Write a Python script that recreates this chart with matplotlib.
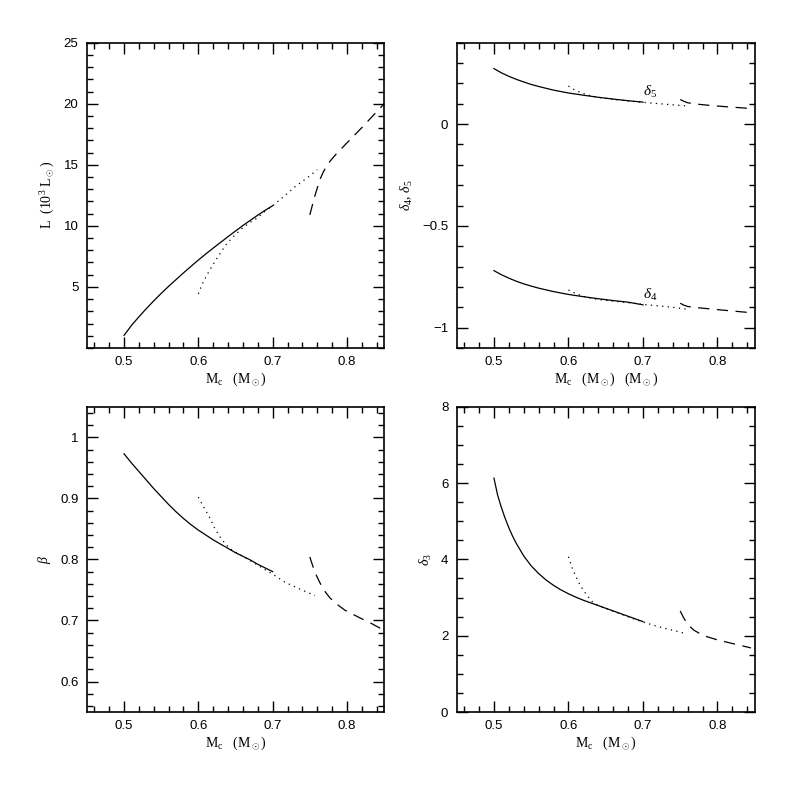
import numpy as np
import matplotlib.pyplot as plt
from matplotlib.ticker import MultipleLocator, FixedLocator

plt.rcParams['font.family'] = ['Liberation Sans', 'DejaVu Sans']
plt.rcParams['mathtext.fontset'] = 'custom'
plt.rcParams['mathtext.rm'] = 'Liberation Serif'
plt.rcParams['mathtext.it'] = 'Liberation Serif:italic'

# --- L (10^3 Lsun) vs Mc
L_solid_m = [0.50, 0.51, 0.52, 0.53, 0.54, 0.55, 0.56, 0.57, 0.58, 0.59, 0.60,
             0.61, 0.62, 0.63, 0.64, 0.65, 0.66, 0.67, 0.68, 0.69, 0.70]
L_solid = [1.03, 1.85, 2.55, 3.22, 3.86, 4.47, 5.05, 5.60, 6.15, 6.68, 7.20,
           7.70, 8.18, 8.65, 9.12, 9.58, 10.03, 10.46, 10.88, 11.28, 11.65]
L_dot_m = [0.600, 0.605, 0.611, 0.617, 0.623, 0.630, 0.636, 0.643, 0.650, 0.660,
           0.670, 0.678, 0.690, 0.700, 0.710, 0.721, 0.730, 0.740, 0.750, 0.760]
L_dot = [4.43, 5.20, 5.92, 6.55, 7.15, 7.80, 8.37, 8.85, 9.30, 9.85,
         10.30, 10.60, 11.20, 11.65, 12.15, 12.72, 13.20, 13.65, 14.10, 14.60]
L_dash_m = [0.750, 0.753, 0.756, 0.760, 0.764, 0.768, 0.772, 0.776, 0.780, 0.785,
            0.790, 0.800, 0.810, 0.820, 0.830, 0.840, 0.850]
L_dash = [10.9, 11.6, 12.3, 13.1, 13.85, 14.4, 14.85, 15.2, 15.5, 15.85,
          16.17, 16.8, 17.42, 18.05, 18.7, 19.35, 20.0]

# --- delta5 and delta4 vs Mc
d5_solid_m = [0.50, 0.51, 0.52, 0.53, 0.54, 0.55, 0.56, 0.58, 0.60, 0.62, 0.64, 0.66, 0.68, 0.70]
d5_solid = [0.273, 0.252, 0.235, 0.220, 0.207, 0.195, 0.185, 0.167, 0.153, 0.142, 0.132, 0.123, 0.115, 0.108]
d5_dot_m = [0.60, 0.61, 0.62, 0.63, 0.64, 0.66, 0.68, 0.70, 0.72, 0.74, 0.76]
d5_dot = [0.187, 0.165, 0.150, 0.139, 0.131, 0.122, 0.114, 0.107, 0.101, 0.095, 0.089]
d5_dash_m = [0.750, 0.755, 0.760, 0.770, 0.790, 0.810, 0.840]
d5_dash = [0.121, 0.112, 0.105, 0.099, 0.092, 0.086, 0.078]

d4_solid_m = [0.50, 0.51, 0.52, 0.53, 0.54, 0.55, 0.56, 0.58, 0.60, 0.62, 0.64, 0.66, 0.68, 0.70]
d4_solid = [-0.720, -0.740, -0.757, -0.772, -0.785, -0.796, -0.806, -0.823, -0.837, -0.848,
            -0.858, -0.867, -0.875, -0.888]
d4_dot_m = [0.60, 0.61, 0.62, 0.63, 0.64, 0.66, 0.68, 0.70, 0.72, 0.74, 0.76]
d4_dot = [-0.815, -0.833, -0.846, -0.855, -0.862, -0.870, -0.877, -0.886, -0.893, -0.900, -0.910]
d4_dash_m = [0.750, 0.755, 0.760, 0.770, 0.790, 0.810, 0.840]
d4_dash = [-0.880, -0.890, -0.896, -0.901, -0.908, -0.915, -0.925]

# --- beta vs Mc
b_solid_m = [0.50, 0.51, 0.52, 0.53, 0.54, 0.55, 0.56, 0.57, 0.58, 0.59, 0.60,
             0.61, 0.62, 0.63, 0.64, 0.65, 0.66, 0.67, 0.68, 0.69, 0.70]
b_solid = [0.973, 0.958, 0.944, 0.930, 0.916, 0.903, 0.890, 0.878, 0.867, 0.857, 0.848,
           0.840, 0.832, 0.825, 0.818, 0.811, 0.805, 0.799, 0.792, 0.786, 0.780]
b_dot_m = [0.600, 0.608, 0.616, 0.622, 0.629, 0.636, 0.642, 0.650, 0.660, 0.674,
           0.690, 0.700, 0.716, 0.730, 0.745, 0.757]
b_dot = [0.902, 0.884, 0.867, 0.851, 0.837, 0.826, 0.818, 0.812, 0.805, 0.795,
         0.783, 0.776, 0.763, 0.755, 0.747, 0.741]
b_dash_m = [0.750, 0.754, 0.758, 0.763, 0.770, 0.777, 0.787, 0.797, 0.808, 0.8195, 0.830, 0.845]
b_dash = [0.804, 0.789, 0.776, 0.763, 0.748, 0.737, 0.726, 0.717, 0.710, 0.703, 0.697, 0.687]

# --- delta3 vs Mc
d3_solid_m = [0.500, 0.505, 0.510, 0.515, 0.520, 0.525, 0.530, 0.540, 0.550, 0.560, 0.570,
              0.580, 0.590, 0.600, 0.610, 0.620, 0.630, 0.640, 0.650, 0.660, 0.670,
              0.680, 0.690, 0.700]
d3_solid = [6.13, 5.68, 5.36, 5.08, 4.83, 4.61, 4.42, 4.09, 3.83, 3.63, 3.46,
            3.32, 3.20, 3.10, 3.01, 2.93, 2.86, 2.79, 2.72, 2.65, 2.58,
            2.51, 2.44, 2.37]
d3_dot_m = [0.600, 0.605, 0.610, 0.615, 0.621, 0.627, 0.632, 0.638, 0.644, 0.655,
            0.670, 0.685, 0.700, 0.715, 0.730, 0.745, 0.758]
d3_dot = [4.07, 3.78, 3.55, 3.35, 3.16, 3.01, 2.89, 2.81, 2.76, 2.68,
          2.57, 2.46, 2.36, 2.27, 2.19, 2.12, 2.05]
d3_dash_m = [0.750, 0.754, 0.758, 0.762, 0.768, 0.775, 0.785, 0.800, 0.815, 0.830, 0.845]
d3_dash = [2.65, 2.49, 2.36, 2.26, 2.15, 2.07, 1.98, 1.89, 1.82, 1.75, 1.68]

L_ticks = [5, 10, 15, 20, 25]

xlabel = r'M$_{\rm c}$   (M$_\odot$)'
serif = dict(family=['Liberation Serif', 'DejaVu Serif'], size=10)


def fmt(v, p):
    s = '%g' % round(v, 3)
    if s in ('-0', '0'):
        return '0'
    return s.replace('-', '\u2212')


fig = plt.figure(figsize=(7.97, 7.97), dpi=100)
ax1 = fig.add_axes([0.109, 0.5634, 0.373, 0.383])
ax2 = fig.add_axes([0.573, 0.5634, 0.374, 0.383])
ax3 = fig.add_axes([0.109, 0.1066, 0.373, 0.383])
ax4 = fig.add_axes([0.573, 0.1066, 0.374, 0.383])

dot = (0, (1, 3.5))
dash = (0, (9, 6))
kw = dict(color='black', lw=0.9)

ax1.plot(L_solid_m, L_solid, '-', **kw)
ax1.plot(L_dot_m, L_dot, linestyle=dot, **kw)
ax1.plot(L_dash_m, L_dash, linestyle=dash, **kw)
ax1.set_ylim(0, 25)
ax1.yaxis.set_major_locator(FixedLocator(L_ticks))
ax1.yaxis.set_minor_locator(MultipleLocator(1))
ax1.set_ylabel(r'L  (10$^3$ L$_\odot$)', **serif)
ax1.set_xlabel(xlabel, **serif)

ax2.plot(d5_solid_m, d5_solid, '-', **kw)
ax2.plot(d5_dot_m, d5_dot, linestyle=dot, **kw)
ax2.plot(d5_dash_m, d5_dash, linestyle=dash, **kw)
ax2.plot(d4_solid_m, d4_solid, '-', **kw)
ax2.plot(d4_dot_m, d4_dot, linestyle=dot, **kw)
ax2.plot(d4_dash_m, d4_dash, linestyle=dash, **kw)
ax2.text(0.700, 0.140, r'$\delta_5$', fontsize=11)
ax2.text(0.700, -0.860, r'$\delta_4$', fontsize=11)
ax2.set_ylim(-1.1, 0.4)
ax2.yaxis.set_major_locator(MultipleLocator(0.5))
ax2.yaxis.set_minor_locator(MultipleLocator(0.1))
ax2.set_ylabel(r'$\delta_4$, $\delta_5$', **serif)
ax2.set_xlabel(r'M$_{\rm c}$   (M$_\odot$)   (M$_\odot$)', **serif)

ax3.plot(b_solid_m, b_solid, '-', **kw)
ax3.plot(b_dot_m, b_dot, linestyle=dot, **kw)
ax3.plot(b_dash_m, b_dash, linestyle=dash, **kw)
ax3.set_ylim(0.55, 1.05)
ax3.yaxis.set_major_locator(MultipleLocator(0.1))
ax3.yaxis.set_minor_locator(MultipleLocator(0.02))
ax3.set_ylabel(r'$\beta$', **serif)
ax3.set_xlabel(xlabel, **serif)

ax4.plot(d3_solid_m, d3_solid, '-', **kw)
ax4.plot(d3_dot_m, d3_dot, linestyle=dot, **kw)
ax4.plot(d3_dash_m, d3_dash, linestyle=dash, **kw)
ax4.set_ylim(0, 8)
ax4.yaxis.set_major_locator(MultipleLocator(2))
ax4.yaxis.set_minor_locator(MultipleLocator(0.5))
ax4.set_ylabel(r'$\delta_3$', **serif)
ax4.set_xlabel(xlabel, **serif)

for ax in (ax1, ax2, ax3, ax4):
    ax.set_xlim(0.45, 0.85)
    ax.xaxis.set_major_locator(MultipleLocator(0.1))
    ax.xaxis.set_minor_locator(MultipleLocator(0.02))
    ax.xaxis.set_major_formatter(fmt)
    ax.yaxis.set_major_formatter(fmt)
    ax.tick_params(which='both', direction='in', top=True, right=True,
                   labelsize=9.5, width=1.0, pad=6)
    ax.tick_params(which='major', length=8)
    ax.tick_params(which='minor', length=4)
    for s in ax.spines.values():
        s.set_linewidth(1.2)
    ax.xaxis.labelpad = 2
    ax.yaxis.labelpad = 5

fig.savefig('out.png', dpi=100)
